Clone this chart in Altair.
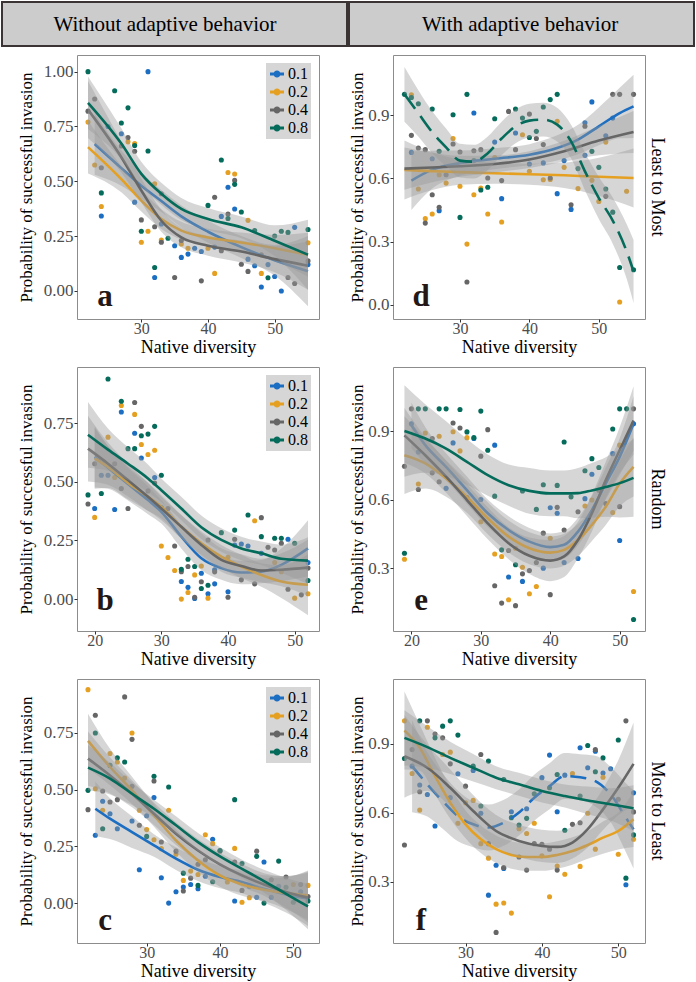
import altair as alt
import pandas as pd

# ---------------------------------------------------------------- labels
GROUPS = ["0.1", "0.2", "0.4", "0.8"]
COLORS = ["#1b6ec2", "#e5a021", "#666666", "#056b5b"]
X_TITLE = "Native diversity"
Y_TITLE = "Probability of successful invasion"
COL_TITLES = ["Without adaptive behavior", "With adaptive behavior"]
ROW_TITLES = ["Least to Most", "Random", "Most to Least"]
LETTERS = ["a", "b", "c", "d", "e", "f"]

# ---------------------------------------------------------------- panel a (scatter)
a_px_01 = [24, 25, 27, 29, 31, 32, 33, 35, 36, 37, 38, 39, 41, 42, 43, 44, 46, 47, 48, 49, 50, 51, 53, 55]
a_py_01 = [0.342, 0.75, 0.717, 0.405, 1.0, 0.061, 0.305, 0.206, 0.153, 0.168, 0.195, 0.18, 0.2, 0.34, 0.473, 0.374, 0.145, 0.115, 0.018, 0.12, 0.066, 0.0, 0.29, 0.12]
a_px_02 = [22, 23, 24, 28, 29, 30, 31, 32, 33, 36, 37, 40, 41, 43, 44, 46, 48, 55]
a_py_02 = [0.77, 0.574, 0.385, 0.68, 0.672, 0.222, 0.272, 0.489, 0.232, 0.214, 0.195, 0.195, 0.08, 0.54, 0.533, 0.322, 0.08, 0.22]
a_px_04 = [22, 23, 24, 27, 28, 29, 30, 32, 33, 33, 35, 36, 39, 41, 42, 43, 44, 45, 46, 48, 52, 53, 55]
a_py_04 = [0.82, 0.875, 0.562, 0.661, 0.7, 0.637, 0.324, 0.293, 0.222, 0.443, 0.061, 0.23, 0.046, 0.427, 0.183, 0.351, 0.504, 0.122, 0.089, 0.165, 0.061, 0.034, 0.137]
a_px_08 = [22, 24, 26, 27, 28, 29, 30, 31, 32, 34, 40, 42, 43, 44, 45, 47, 49, 50, 51, 52, 55]
a_py_08 = [1.0, 0.447, 0.913, 0.766, 0.835, 0.663, 0.272, 0.638, 0.107, 0.24, 0.39, 0.597, 0.33, 0.486, 0.36, 0.275, 0.06, 0.25, 0.272, 0.267, 0.28]

# panel a (smooth fits and half-width of their bands)
a_fx_01 = [23, 27, 30, 33, 36, 40, 45, 50, 55]
a_fy_01 = [0.67, 0.56, 0.48, 0.41, 0.34, 0.27, 0.2, 0.14, 0.09]
a_se_01 = [0.14, 0.08, 0.06, 0.05, 0.05, 0.05, 0.05, 0.07, 0.16]
a_fx = [22, 27, 30, 33, 36, 40, 45, 50, 55]
a_fy_02 = [0.656, 0.51, 0.412, 0.328, 0.275, 0.244, 0.221, 0.195, 0.165]
a_se_02 = [0.12, 0.06, 0.05, 0.045, 0.04, 0.04, 0.045, 0.06, 0.1]
a_fy_04 = [0.827, 0.61, 0.458, 0.32, 0.244, 0.206, 0.18, 0.145, 0.115]
a_se_04 = [0.13, 0.07, 0.055, 0.05, 0.045, 0.045, 0.05, 0.06, 0.11]
a_fy_08 = [0.858, 0.672, 0.534, 0.443, 0.374, 0.328, 0.29, 0.229, 0.165]
a_se_08 = [0.12, 0.07, 0.055, 0.05, 0.05, 0.05, 0.05, 0.07, 0.16]

# ---------------------------------------------------------------- panel b (scatter)
b_px_01 = [20, 21, 22, 23, 24, 26, 27, 29, 30, 33, 34, 35, 36, 37, 38, 38, 40, 41, 42, 43, 45, 49, 52]
b_py_01 = [0.386, 0.528, 0.528, 0.382, 0.797, 0.707, 0.601, 0.518, 0.39, 0.075, 0.05, 0.003, 0.11, 0.023, 0.065, 0.125, 0.031, 0.23, 0.235, 0.226, 0.195, 0.255, 0.156]
b_px_02 = [20, 22, 23, 24, 26, 27, 28, 29, 30, 31, 32, 33, 34, 35, 36, 37, 40, 44, 47, 48, 50, 52]
b_py_02 = [0.348, 0.69, 0.518, 0.825, 0.787, 0.659, 0.616, 0.634, 0.226, 0.177, 0.122, 0.0, 0.028, 0.103, 0.141, 0.004, 0.178, 0.334, 0.156, 0.117, 0.004, 0.023]
b_px_04 = [19, 20, 23, 24, 25, 26, 27, 28, 29, 31, 32, 33, 34, 35, 36, 37, 38, 40, 41, 42, 44, 45, 46, 47, 48, 49, 51, 52]
b_py_04 = [0.405, 0.577, 0.577, 0.471, 0.386, 0.838, 0.736, 0.461, 0.495, 0.386, 0.226, 0.117, 0.139, 0.008, 0.074, 0.252, 0.116, 0.008, 0.255, 0.082, 0.065, 0.347, 0.221, 0.209, 0.238, 0.042, 0.018, 0.132]
b_px_08 = [19, 21, 22, 24, 25, 26, 27, 28, 29, 30, 33, 34, 35, 36, 37, 39, 41, 43, 45, 47, 48, 50, 52]
b_py_08 = [0.444, 0.45, 0.938, 0.843, 0.641, 0.641, 0.696, 0.703, 0.736, 0.528, 0.127, 0.17, 0.139, 0.045, 0.059, 0.283, 0.294, 0.358, 0.266, 0.259, 0.259, 0.238, 0.079]

# panel b (fits)
b_fx_lo = [20, 22, 25, 28, 30, 33, 36, 39, 42, 45, 48, 52]
b_fx = [19, 22, 25, 28, 30, 33, 36, 39, 42, 45, 48, 52]
b_fy_01 = [0.606, 0.56, 0.49, 0.422, 0.372, 0.266, 0.174, 0.132, 0.113, 0.117, 0.146, 0.216]
b_se_01 = [0.13, 0.09, 0.07, 0.06, 0.05, 0.05, 0.05, 0.05, 0.05, 0.05, 0.07, 0.12]
b_fy_02 = [0.6, 0.563, 0.495, 0.436, 0.393, 0.308, 0.238, 0.181, 0.139, 0.103, 0.075, 0.061]
b_se_02 = [0.13, 0.09, 0.07, 0.06, 0.05, 0.05, 0.05, 0.05, 0.05, 0.05, 0.07, 0.13]
b_fy_04 = [0.641, 0.577, 0.507, 0.436, 0.386, 0.308, 0.231, 0.167, 0.141, 0.122, 0.125, 0.134]
b_se_04 = [0.14, 0.09, 0.07, 0.06, 0.05, 0.05, 0.05, 0.05, 0.05, 0.05, 0.07, 0.12]
b_fy_08 = [0.7, 0.637, 0.577, 0.514, 0.464, 0.386, 0.306, 0.252, 0.216, 0.195, 0.172, 0.164]
b_se_08 = [0.14, 0.09, 0.07, 0.06, 0.05, 0.05, 0.05, 0.05, 0.05, 0.05, 0.06, 0.1]

# ---------------------------------------------------------------- panel c (scatter)
c_px_01 = [23, 24, 25, 26, 28, 29, 30, 31, 32, 33, 34, 35, 36, 37, 38, 39, 42, 44, 45, 46, 47, 48, 51]
c_py_01 = [0.299, 0.449, 0.394, 0.328, 0.362, 0.147, 0.385, 0.465, 0.112, 0.0, 0.05, 0.071, 0.082, 0.063, 0.118, 0.281, 0.009, 0.074, 0.026, 0.181, 0.026, 0.074, 0.05]
c_px_02 = [22, 23, 24, 25, 26, 27, 28, 29, 30, 31, 32, 33, 34, 35, 36, 37, 38, 39, 41, 42, 43, 44, 50, 52]
c_py_02 = [0.941, 0.504, 0.409, 0.659, 0.622, 0.551, 0.75, 0.409, 0.324, 0.279, 0.24, 0.409, 0.215, 0.1, 0.141, 0.126, 0.301, 0.262, 0.093, 0.241, 0.004, 0.024, 0.082, 0.078]
c_px_04 = [22, 23, 24, 25, 26, 27, 28, 28, 29, 31, 32, 34, 35, 36, 37, 38, 40, 42, 43, 45, 47, 49, 51, 52]
c_py_04 = [0.412, 0.828, 0.494, 0.446, 0.456, 0.909, 0.722, 0.515, 0.343, 0.538, 0.269, 0.229, 0.053, 0.11, 0.171, 0.191, 0.229, 0.181, 0.056, 0.229, 0.103, 0.115, 0.082, 0.029]
c_px_08 = [22, 23, 24, 25, 26, 27, 30, 31, 33, 35, 37, 39, 40, 42, 43, 45, 46, 48, 49, 50, 52]
c_py_08 = [0.497, 0.75, 0.328, 0.607, 0.641, 0.622, 0.294, 0.559, 0.512, 0.132, 0.078, 0.094, 0.232, 0.456, 0.174, 0.206, 0.0, 0.185, 0.07, 0.004, 0.009]

# panel c (fits)
c_fx_01 = [23, 25, 28, 31, 34, 37, 40, 43, 46, 49, 52]
c_fx = [22, 25, 28, 31, 34, 37, 40, 43, 46, 49, 52]
c_fy_01 = [0.416, 0.372, 0.313, 0.254, 0.196, 0.147, 0.115, 0.093, 0.063, 0.038, 0.019]
c_se_01 = [0.12, 0.09, 0.07, 0.05, 0.05, 0.05, 0.05, 0.05, 0.06, 0.08, 0.12]
c_fy_02 = [0.715, 0.6, 0.497, 0.387, 0.276, 0.188, 0.122, 0.082, 0.059, 0.044, 0.034]
c_se_02 = [0.12, 0.08, 0.06, 0.05, 0.05, 0.05, 0.05, 0.05, 0.05, 0.07, 0.11]
c_fy_04 = [0.637, 0.563, 0.482, 0.394, 0.306, 0.232, 0.171, 0.122, 0.082, 0.049, 0.024]
c_se_04 = [0.12, 0.08, 0.06, 0.05, 0.05, 0.05, 0.05, 0.05, 0.05, 0.07, 0.11]
c_fy_08 = [0.597, 0.549, 0.482, 0.416, 0.343, 0.269, 0.206, 0.151, 0.097, 0.041, -0.015]
c_se_08 = [0.1, 0.07, 0.05, 0.04, 0.04, 0.04, 0.04, 0.04, 0.05, 0.07, 0.1]

# ---------------------------------------------------------------- panel d (scatter)
d_px_01 = [23, 26, 27, 32, 35, 36, 38, 40, 42, 44, 45, 46, 48, 48, 49, 51, 52]
d_py_01 = [0.724, 0.694, 0.447, 0.911, 0.773, 0.504, 0.816, 0.669, 0.674, 0.528, 0.685, 0.453, 0.865, 0.71, 0.964, 0.803, 0.887]
d_px_02 = [23, 24, 25, 26, 27, 28, 29, 30, 31, 32, 33, 34, 35, 36, 39, 40, 42, 43, 44, 45, 47, 49, 50, 51, 53, 54]
d_py_02 = [0.998, 0.55, 0.409, 0.431, 0.618, 0.578, 0.79, 0.563, 0.288, 0.523, 0.555, 0.431, 0.7, 0.393, 0.808, 0.634, 0.594, 0.595, 0.872, 0.653, 0.552, 0.591, 0.491, 0.773, 0.013, 0.539]
d_px_04 = [23, 24, 25, 25, 26, 27, 28, 29, 30, 31, 32, 33, 34, 36, 37, 38, 40, 41, 42, 43, 46, 48, 51, 52, 53, 55]
d_py_04 = [0.805, 0.745, 0.388, 0.737, 0.523, 0.463, 0.618, 0.764, 0.726, 0.108, 0.732, 0.737, 0.602, 0.59, 0.919, 0.737, 0.906, 0.79, 0.761, 0.602, 0.475, 0.848, 0.515, 1.0, 1.0, 1.0]
d_px_08 = [22, 23, 24, 26, 27, 29, 30, 31, 32, 33, 34, 35, 38, 39, 40, 41, 42, 43, 44, 47, 49, 50, 51, 52, 53, 55]
d_py_08 = [1.0, 0.985, 0.955, 0.93, 0.729, 0.903, 0.415, 1.0, 0.685, 0.545, 0.558, 0.884, 0.93, 0.887, 0.795, 0.824, 0.94, 0.975, 1.0, 0.647, 0.729, 0.653, 0.55, 0.44, 0.177, 0.166]

# panel d (fits)
d_fx_01 = [23, 26, 30, 35, 40, 44, 47, 50, 53, 55]
d_fy_01 = [0.59, 0.642, 0.673, 0.694, 0.713, 0.745, 0.785, 0.848, 0.911, 0.943]
d_se_01 = [0.14, 0.09, 0.06, 0.05, 0.05, 0.06, 0.07, 0.09, 0.12, 0.15]
d_fx = [22, 26, 30, 35, 40, 45, 50, 55]
d_fy_02 = [0.64, 0.635, 0.63, 0.625, 0.62, 0.615, 0.608, 0.602]
d_se_02 = [0.14, 0.09, 0.06, 0.05, 0.05, 0.06, 0.09, 0.14]
d_fy_04 = [0.647, 0.652, 0.658, 0.669, 0.69, 0.729, 0.78, 0.821]
d_se_04 = [0.1, 0.07, 0.05, 0.04, 0.04, 0.05, 0.07, 0.1]
d_fx_08 = [22, 24, 26, 28, 30, 32, 34, 36, 38, 40, 42, 44, 46, 48, 50, 52, 54, 55]
d_fy_08 = [1.0, 0.91, 0.82, 0.748, 0.685, 0.68, 0.72, 0.79, 0.848, 0.875, 0.88, 0.856, 0.776, 0.634, 0.507, 0.4, 0.254, 0.158]
d_se_08 = [0.13, 0.11, 0.1, 0.09, 0.08, 0.08, 0.08, 0.08, 0.08, 0.08, 0.08, 0.08, 0.08, 0.09, 0.1, 0.11, 0.13, 0.15]

# ---------------------------------------------------------------- panel e (scatter)
e_px_01 = [20, 21, 25, 26, 29, 30, 32, 34, 36, 39, 40, 41, 42, 44, 45, 46, 49, 50, 52]
e_py_01 = [0.932, 0.808, 0.649, 0.848, 0.867, 0.6, 0.838, 0.261, 0.242, 0.3, 0.564, 0.54, 0.325, 0.342, 0.604, 0.711, 0.801, 0.421, 0.932]
e_px_02 = [19, 21, 22, 24, 26, 27, 28, 30, 32, 33, 34, 35, 36, 37, 38, 40, 45, 46, 49, 50, 52]
e_py_02 = [0.339, 0.668, 0.891, 0.877, 0.897, 0.813, 0.871, 0.503, 0.362, 0.351, 0.162, 0.387, 0.304, 0.188, 0.22, 0.431, 0.572, 0.598, 0.543, 0.838, 0.198]
e_px_04 = [19, 20, 21, 23, 23, 24, 26, 27, 28, 30, 31, 32, 33, 34, 35, 36, 37, 38, 39, 40, 41, 42, 44, 47, 48, 50, 52]
e_py_04 = [0.746, 0.997, 0.644, 0.867, 0.717, 0.678, 0.935, 0.913, 0.609, 0.79, 0.906, 0.223, 0.147, 0.377, 0.136, 0.275, 0.29, 0.325, 0.453, 0.184, 0.566, 0.467, 0.547, 0.641, 0.583, 0.569, 0.997]
e_px_08 = [19, 21, 22, 24, 25, 27, 28, 29, 30, 31, 32, 33, 35, 36, 38, 39, 41, 42, 43, 45, 46, 47, 49, 50, 51, 52]
e_py_08 = [0.365, 0.997, 0.997, 0.997, 0.997, 0.994, 0.896, 0.871, 0.987, 0.816, 0.615, 0.38, 0.315, 0.638, 0.557, 0.665, 0.662, 0.852, 0.612, 0.726, 0.779, 0.74, 0.909, 0.997, 0.997, 0.075]

# panel e (fits)
e_fx_01 = [20, 22, 25, 28, 31, 34, 37, 40, 42, 44, 46, 48, 50, 52]
e_fx = [19, 22, 25, 28, 31, 34, 37, 40, 42, 44, 46, 48, 50, 52]
e_fy_01 = [0.925, 0.838, 0.743, 0.641, 0.54, 0.467, 0.416, 0.392, 0.402, 0.46, 0.554, 0.67, 0.787, 0.932]
e_se_01 = [0.1, 0.08, 0.06, 0.06, 0.06, 0.06, 0.06, 0.06, 0.06, 0.06, 0.06, 0.07, 0.08, 0.12]
e_fy_02 = [0.794, 0.758, 0.692, 0.612, 0.518, 0.438, 0.387, 0.368, 0.38, 0.423, 0.489, 0.569, 0.67, 0.743]
e_se_02 = [0.17, 0.11, 0.08, 0.07, 0.07, 0.07, 0.07, 0.07, 0.07, 0.07, 0.07, 0.08, 0.1, 0.13]
e_fy_04 = [0.881, 0.794, 0.7, 0.598, 0.496, 0.409, 0.354, 0.333, 0.351, 0.423, 0.54, 0.685, 0.816, 0.946]
e_se_04 = [0.12, 0.08, 0.07, 0.07, 0.07, 0.07, 0.08, 0.09, 0.09, 0.08, 0.08, 0.08, 0.1, 0.15]
e_fy_08 = [0.9, 0.867, 0.823, 0.765, 0.707, 0.663, 0.638, 0.627, 0.627, 0.628, 0.64, 0.655, 0.672, 0.695]
e_se_08 = [0.2, 0.15, 0.12, 0.1, 0.09, 0.09, 0.1, 0.1, 0.1, 0.11, 0.12, 0.13, 0.15, 0.17]

# ---------------------------------------------------------------- panel f (scatter)
f_px_01 = [23, 24, 25, 26, 28, 29, 31, 32, 33, 34, 35, 36, 38, 40, 41, 42, 43, 45, 46, 47, 48, 49, 51, 52]
f_py_01 = [0.803, 0.721, 0.68, 0.543, 0.666, 0.77, 0.784, 0.598, 0.242, 0.372, 0.358, 0.605, 0.618, 0.753, 0.851, 0.605, 0.764, 0.883, 0.796, 0.868, 0.773, 0.792, 0.287, 0.687]
f_px_02 = [22, 23, 24, 25, 27, 28, 29, 30, 31, 32, 33, 34, 35, 36, 37, 38, 39, 40, 41, 42, 43, 44, 45, 46, 47, 48, 50, 52]
f_py_02 = [1.0, 0.771, 0.612, 0.972, 0.854, 0.864, 0.555, 0.644, 0.654, 0.466, 0.403, 0.203, 0.208, 0.164, 0.531, 0.51, 0.555, 0.413, 0.235, 0.369, 0.333, 0.771, 0.367, 0.598, 0.442, 0.755, 0.42, 0.485]
f_px_04 = [22, 23, 24, 25, 26, 27, 28, 30, 32, 33, 34, 35, 37, 38, 39, 40, 41, 42, 44, 45, 47, 50, 51, 52]
f_py_04 = [0.46, 0.875, 0.692, 1.0, 0.943, 0.926, 0.813, 0.716, 0.854, 0.466, 0.08, 0.362, 0.408, 0.351, 0.466, 0.463, 0.442, 0.351, 0.55, 0.557, 0.875, 0.659, 1.0, 0.604]
f_px_08 = [22, 24, 26, 27, 28, 29, 31, 32, 33, 35, 36, 37, 38, 39, 41, 42, 43, 45, 46, 47, 48, 50, 51, 52]
f_py_08 = [0.836, 1.0, 0.926, 0.977, 1.0, 0.938, 0.803, 0.63, 0.825, 0.745, 0.579, 0.547, 0.576, 0.683, 0.709, 0.767, 0.524, 0.673, 0.893, 0.779, 0.839, 0.917, 0.316, 0.504]

# panel f (fits)
f_fx_01 = [23, 25, 27, 29, 31, 33, 35, 37, 39, 41, 43, 45, 47, 49, 51, 52]
f_fy_01 = [0.803, 0.724, 0.651, 0.586, 0.55, 0.536, 0.557, 0.601, 0.666, 0.716, 0.76, 0.755, 0.738, 0.68, 0.579, 0.528]
f_se_01 = [0.2, 0.14, 0.12, 0.11, 0.1, 0.1, 0.1, 0.1, 0.1, 0.1, 0.1, 0.1, 0.11, 0.12, 0.15, 0.17]
f_fx_02 = [22, 24, 26, 28, 30, 32, 34, 36, 38, 40, 42, 44, 46, 48, 50, 52]
f_fy_02 = [0.958, 0.883, 0.76, 0.644, 0.55, 0.485, 0.442, 0.417, 0.408, 0.408, 0.417, 0.434, 0.46, 0.492, 0.521, 0.572]
f_se_02 = [0.17, 0.1, 0.08, 0.07, 0.06, 0.06, 0.06, 0.06, 0.06, 0.06, 0.06, 0.06, 0.06, 0.07, 0.08, 0.12]
f_fx_04 = [22, 25, 28, 31, 34, 37, 40, 42, 44, 46, 48, 50, 52]
f_fy_04 = [0.846, 0.796, 0.709, 0.608, 0.521, 0.478, 0.456, 0.452, 0.471, 0.529, 0.615, 0.709, 0.813]
f_se_04 = [0.18, 0.1, 0.08, 0.07, 0.07, 0.07, 0.07, 0.07, 0.07, 0.08, 0.09, 0.12, 0.18]
f_fx_08 = [22, 25, 28, 31, 34, 37, 40, 43, 46, 49, 52]
f_fy_08 = [0.926, 0.886, 0.839, 0.796, 0.753, 0.724, 0.695, 0.673, 0.654, 0.637, 0.62]
f_se_08 = [0.12, 0.09, 0.07, 0.06, 0.05, 0.05, 0.05, 0.05, 0.06, 0.07, 0.1]

# ---------------------------------------------------------------- styling
SERIF = "Liberation Serif"
BAND_FILL = "#999999"
LINE_W = 2.6
# legend key: a short thick line with a dot on it
KEY_PATH = ("M-1,-0.2L1,-0.2L1,0.2L-1,0.2Z "
            "M0.5,0A0.5,0.5,0,1,1,-0.5,0A0.5,0.5,0,1,1,0.5,0Z")
LEFT_W, RIGHT_W, PANEL_H = 242, 252, 264
GAP_X, GAP_ROWS = 74, 48
HEAD_GROUP_H = 6      # layout height of the strip cell; the box hangs below it
HEAD_TOP, HEAD_BOTTOM = 1, 45


def legend_box():
    return alt.Legend(
        orient="top-right", offset=8, title=None, fillColor="#d6d6d6",
        padding=3, rowPadding=2, labelFont=SERIF, labelFontSize=16,
        labelColor="black", labelOffset=3, symbolType=KEY_PATH,
        symbolSize=196, symbolOpacity=1, labelLimit=0,
    )


def points_frame(series):
    rows = []
    for g, (xs, ys) in zip(GROUPS, series):
        rows += [{"x": x, "y": y, "g": g} for x, y in zip(xs, ys)]
    return pd.DataFrame(rows)


def fit_frame(xs, fit, se):
    return pd.DataFrame({
        "x": xs, "fit": fit,
        "lo": [f - s for f, s in zip(fit, se)],
        "hi": [f + s for f, s in zip(fit, se)],
    })


def panel(series, fits, dashes, xdom, ydom, xticks, yticks, yfmt, letter,
          letter_y, width, legend, y_extent, y_tpad, row_title=None):
    xscale = alt.Scale(domain=xdom, nice=False, zero=False)
    yscale = alt.Scale(domain=ydom, nice=False, zero=False)
    xaxis = alt.Axis(values=xticks, title=X_TITLE, format="d", labelPadding=-2,
                     labelFontSize=16, minExtent=19, maxExtent=19, titlePadding=0)
    yaxis = alt.Axis(values=yticks, title=Y_TITLE, format=yfmt, labelPadding=1,
                     titleFontSize=17, minExtent=y_extent, maxExtent=y_extent,
                     titlePadding=y_tpad)
    xenc = alt.X("x:Q", scale=xscale, axis=xaxis)

    layers = [
        alt.Chart(points_frame(series)).mark_circle(size=26, opacity=1).encode(
            x=xenc,
            y=alt.Y("y:Q", scale=yscale, axis=yaxis),
            color=alt.Color("g:N", scale=alt.Scale(domain=GROUPS, range=COLORS),
                            legend=legend),
        )
    ]
    # each group's ribbon is drawn before its line, in group order
    for col, (fx, fy, se), dash in zip(COLORS, fits, dashes):
        base = alt.Chart(fit_frame(fx, fy, se))
        layers.append(
            base.mark_area(color=BAND_FILL, opacity=0.4, interpolate="monotone",
                           clip=True).encode(
                x=xenc, y=alt.Y("lo:Q", scale=yscale, axis=yaxis), y2="hi:Q")
        )
        kw = dict(color=col, strokeWidth=LINE_W, interpolate="monotone", clip=True)
        if dash:
            kw["strokeDash"] = dash
        layers.append(
            base.mark_line(**kw).encode(
                x=xenc, y=alt.Y("fit:Q", scale=yscale, axis=yaxis))
        )
    layers.append(
        alt.Chart(pd.DataFrame({"t": [letter]})).mark_text(
            font=SERIF, fontSize=31, fontWeight="bold", color="#231815",
            align="center", baseline="alphabetic",
        ).encode(text="t:N", x=alt.value(28), y=alt.value(letter_y))
    )
    props = dict(width=width, height=PANEL_H,
                 view=alt.ViewBackground(stroke="#8c8c8c", strokeWidth=1))
    if row_title:
        props["title"] = alt.TitleParams(
            text=row_title, orient="right", angle=90, font=SERIF, fontSize=18,
            fontWeight="normal", color="black", anchor="middle",
            baseline="middle", offset=-6,
        )
    return alt.layer(*layers).properties(**props)


def header(label, x0, x1, text_x, width):
    base = alt.Chart(pd.DataFrame({"t": [label]}))
    box = base.mark_rect(fill="#cccccc", stroke="#3b3434", strokeWidth=2).encode(
        x=alt.value(x0), x2=alt.value(x1),
        y=alt.value(HEAD_TOP), y2=alt.value(HEAD_BOTTOM))
    txt = base.mark_text(font=SERIF, fontSize=21, color="black",
                         align="center", baseline="middle").encode(
        text="t:N", x=alt.value(text_x),
        y=alt.value((HEAD_TOP + HEAD_BOTTOM) / 2 + 1))
    return alt.layer(box, txt).properties(
        width=width, height=HEAD_GROUP_H,
        view=alt.ViewBackground(stroke="transparent"))


LEFT_X = [20.35, 56.65]
MID_X = [17.35, 53.65]
LOW_X = [20.5, 53.5]
Y_LEFT_A = [0, 0.25, 0.5, 0.75, 1.0]
Y_LEFT = [0, 0.25, 0.5, 0.75]
Y_RIGHT_D = [0, 0.3, 0.6, 0.9]
Y_RIGHT = [0.3, 0.6, 0.9]

p_a = panel(
    [(a_px_01, a_py_01), (a_px_02, a_py_02), (a_px_04, a_py_04), (a_px_08, a_py_08)],
    [(a_fx_01, a_fy_01, a_se_01), (a_fx, a_fy_02, a_se_02),
     (a_fx, a_fy_04, a_se_04), (a_fx, a_fy_08, a_se_08)],
    [None, None, None, None], LEFT_X, [-0.128, 1.076], [30, 40, 50], Y_LEFT_A,
    ".2f", LETTERS[0], 251, LEFT_W, legend_box(), 36, 6)

p_b = panel(
    [(b_px_01, b_py_01), (b_px_02, b_py_02), (b_px_04, b_py_04), (b_px_08, b_py_08)],
    [(b_fx_lo, b_fy_01, b_se_01), (b_fx_lo, b_fy_02, b_se_02),
     (b_fx, b_fy_04, b_se_04), (b_fx, b_fy_08, b_se_08)],
    [None, None, None, None], MID_X, [-0.136, 0.989], [20, 30, 40, 50], Y_LEFT,
    ".2f", LETTERS[1], 243, LEFT_W, legend_box(), 36, 6)

p_c = panel(
    [(c_px_01, c_py_01), (c_px_02, c_py_02), (c_px_04, c_py_04), (c_px_08, c_py_08)],
    [(c_fx_01, c_fy_01, c_se_01), (c_fx, c_fy_02, c_se_02),
     (c_fx, c_fy_04, c_se_04), (c_fx, c_fy_08, c_se_08)],
    [None, None, None, None], LOW_X, [-0.176, 0.988], [30, 40, 50], Y_LEFT,
    ".2f", LETTERS[2], 251, LEFT_W, legend_box(), 36, 6)

p_d = panel(
    [(d_px_01, d_py_01), (d_px_02, d_py_02), (d_px_04, d_py_04), (d_px_08, d_py_08)],
    [(d_fx_01, d_fy_01, d_se_01), (d_fx, d_fy_02, d_se_02),
     (d_fx, d_fy_04, d_se_04), (d_fx_08, d_fy_08, d_se_08)],
    [None, None, None, [18, 9]], LEFT_X, [-0.068, 1.187], [30, 40, 50], Y_RIGHT_D,
    ".1f", LETTERS[3], 251, RIGHT_W, None, 25, 2, ROW_TITLES[0])

p_e = panel(
    [(e_px_01, e_py_01), (e_px_02, e_py_02), (e_px_04, e_py_04), (e_px_08, e_py_08)],
    [(e_fx_01, e_fy_01, e_se_01), (e_fx, e_fy_02, e_se_02),
     (e_fx, e_fy_04, e_se_04), (e_fx, e_fy_08, e_se_08)],
    [None, None, None, None], MID_X, [0.025, 1.18], [20, 30, 40, 50], Y_RIGHT,
    ".1f", LETTERS[4], 243, RIGHT_W, None, 25, 2, ROW_TITLES[1])

p_f = panel(
    [(f_px_01, f_py_01), (f_px_02, f_py_02), (f_px_04, f_py_04), (f_px_08, f_py_08)],
    [(f_fx_01, f_fy_01, f_se_01), (f_fx_02, f_fy_02, f_se_02),
     (f_fx_04, f_fy_04, f_se_04), (f_fx_08, f_fy_08, f_se_08)],
    [[16, 9], None, None, None], LOW_X, [0.034, 1.182], [30, 40, 50], Y_RIGHT,
    ".1f", LETTERS[5], 251, RIGHT_W, None, 25, 2, ROW_TITLES[2])

head_l = header(COL_TITLES[0], -75, 270, 88, LEFT_W)
head_r = header(COL_TITLES[1], -44, 301, 127, RIGHT_W)

chart = (
    alt.concat(head_l, head_r, p_a, p_d, p_b, p_e, p_c, p_f,
               columns=2, bounds="flush", align="each",
               spacing=alt.RowColnumber(row=GAP_ROWS, column=GAP_X))
    .resolve_scale(color="independent")
    .resolve_legend(color="independent")
    .properties(padding=0, background="white")
    .configure_view(stroke="transparent")
    .configure_axis(
        grid=False, domain=False, ticks=True, tickColor="#333333", tickSize=3,
        tickWidth=1, labelFont=SERIF, labelFontSize=17, labelColor="#4d4d4d",
        titleFont=SERIF, titleFontSize=18, titleFontWeight="normal",
        titleColor="black",
    )
)

chart.save("out.html", embed_options={"renderer": "svg", "actions": False})
